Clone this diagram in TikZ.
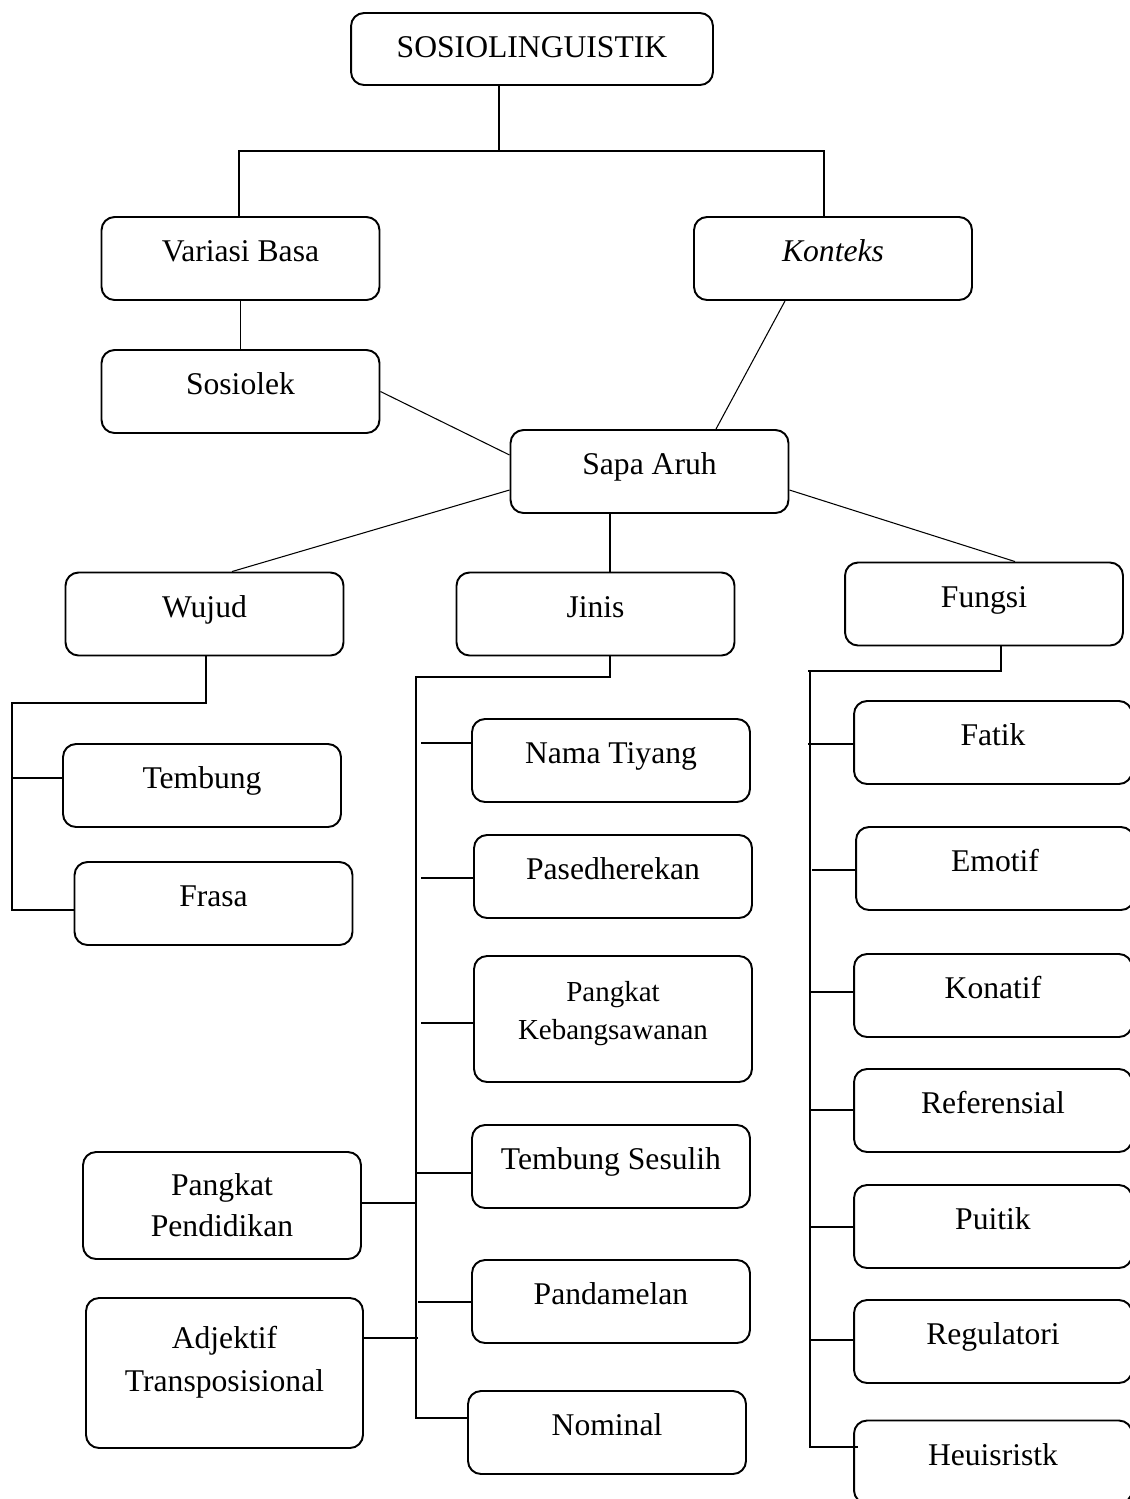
\documentclass[tikz,border=0pt]{standalone}
\usepackage{fontspec}
\setmainfont{Liberation Serif}
\usepackage{tikz}
\usetikzlibrary{positioning}

\begin{document}
\begin{tikzpicture}[x=0.02cm, y=-0.02cm,
    boxbase/.style={draw, line width=1.1pt, rounded corners=0.26cm, inner sep=0pt,
      minimum width=5.56cm, minimum height=1.66cm},
    box/.style={boxbase, text height=0.5cm, text depth=0.38cm,
      font=\fontsize{18}{23}\selectfont},
    twobox/.style={boxbase, align=center, font=\fontsize{18}{23.5}\selectfont},
    link/.style={line width=0.6pt}]
  \useasboundingbox (0,0) rectangle (1130,1499);

  % top levels
  \node[box, minimum width=7.24cm, minimum height=1.44cm, text depth=0.16cm] (sosio) at (532,49) {SOSIOLINGUISTIK};
  \node[box] (variasi) at (240.5,258.5) {Variasi Basa};
  \node[box] (konteks) at (833,258.5) {\textit{Konteks}};
  \node[box] (sosiolek) at (240.5,391.5) {Sosiolek};
  \node[box] (sapa) at (649.5,471.5) {Sapa Aruh};
  \node[box] (wujud) at (204.5,614) {Wujud};
  \node[box] (jinis) at (595.5,614) {Jinis};
  \node[box] (fungsi) at (984,604) {Fungsi};

  % wujud
  \node[box] (tembung) at (202,785.5) {Tembung};
  \node[box] (frasa) at (213.5,903.5) {Frasa};

  % jinis
  \node[box] (nama) at (611,760.5) {Nama Tiyang};
  \node[box] (pased) at (613,876.5) {Pasedherekan};
  \node[twobox, minimum height=2.52cm, font=\fontsize{16.5}{22}\selectfont] (kebang) at (613,1019)
    {Pangkat\\Kebangsawanan\rule[-0.34cm]{0pt}{0pt}};
  \node[box] (sesulih) at (611,1166.5) {Tembung Sesulih};
  \node[box] (pandamelan) at (611,1301.5) {Pandamelan};
  \node[box] (nominal) at (607,1432.5) {Nominal};
  \node[twobox, minimum height=2.14cm] (pendidikan) at (222,1205.5) {Pangkat\\Pendidikan};
  \node[twobox, minimum width=5.54cm, minimum height=3cm, font=\fontsize{18}{24.5}\selectfont] (adjektif) at (224.5,1373)
    {Adjektif\\Transposisional\rule[-0.58cm]{0pt}{0pt}};

  % fungsi
  \node[box] (fatik) at (993,742.5) {Fatik};
  \node[box] (emotif) at (995,868.5) {Emotif};
  \node[box] (konatif) at (993,995.5) {Konatif};
  \node[box] (referensial) at (993,1110.5) {Referensial};
  \node[box] (puitik) at (993,1226.5) {Puitik};
  \node[box] (regulatori) at (993,1341.5) {Regulatori};
  \node[box] (heuis) at (993,1462) {Heuisristk};

  \coordinate (top) at (499,151);
  \coordinate (wtop) at (12,703);
  \coordinate (jtop) at (416,677);
  \coordinate (ftop) at (810,671);

  % upper links
  \draw[link] (sosio.south -| top) -- (top);
  \draw[link] (variasi.north -| 239,0) |- (top) -| (konteks.north -| 824,0);
  \draw[link] (variasi) -- (sosiolek);
  \draw[link] (sosiolek.east) -- (sapa.west |- 0,455);
  \draw[link] (konteks.south -| 785,0) -- (sapa.north -| 716,0);
  \draw[link] (sapa.west |- 0,490) -- (wujud.north -| 232,0);
  \draw[link] (sapa.south -| 610,0) -- (jinis.north -| 610,0);
  \draw[link] (sapa.east |- 0,490) -- (fungsi.north -| 1015,0);

  % wujud bracket
  \draw[link] (wujud.south -| 206,0) |- (wtop) |- (frasa.west |- 0,910);
  \draw[link] (wtop |- 0,778) -- (tembung.west |- 0,778);

  % jinis bracket
  \draw[link] (jinis.south -| 610,0) |- (jtop) |- (nominal.west |- 0,1418);
  \foreach \n/\y/\x in {nama/743/421, pased/878/421, kebang/1023/421, sesulih/1173/416, pandamelan/1302/418}
    \draw[link] (\x,\y) -- (\n.west |- 0,\y);
  \draw[link] (pendidikan.east |- 0,1203) -- (jtop |- 0,1203);
  \draw[link] (adjektif.east |- 0,1338) -- (418,1338);

  % fungsi bracket
  \draw[link] (fungsi.south -| 1001,0) |- (808,671) -- (ftop) |- (858,1447);
  \foreach \n/\y/\x in {fatik/744/808, emotif/870/812, konatif/992/810, referensial/1110/810, puitik/1227/810, regulatori/1340/810}
    \draw[link] (\x,\y) -- (\n.west |- 0,\y);
\end{tikzpicture}
\end{document}
